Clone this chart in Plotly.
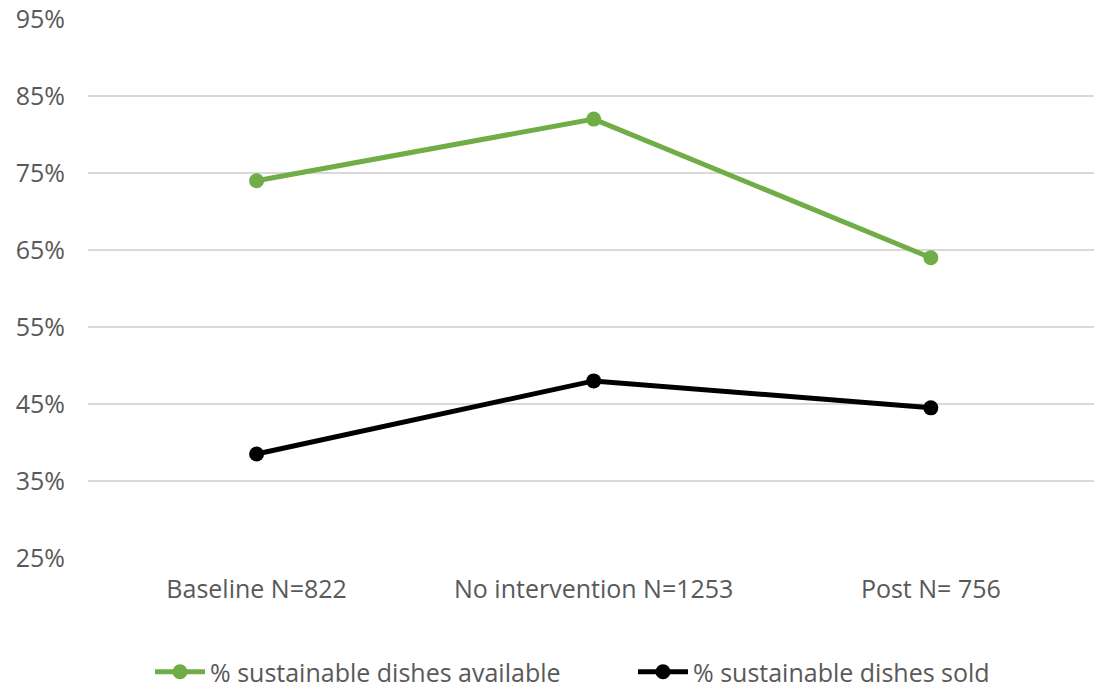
import plotly.graph_objects as go

categories = ["Baseline N=822", "No intervention N=1253", "Post N= 756"]
available = [0.74, 0.82, 0.64]
sold = [0.385, 0.48, 0.445]
y_ticks = [0.25, 0.35, 0.45, 0.55, 0.65, 0.75, 0.85, 0.95]

FONT = "Open Sans"
GREY = "#595959"
SIZE = 25

fig = go.Figure()
fig.add_trace(go.Scatter(
    x=categories, y=available, mode="lines+markers",
    name="% sustainable dishes available",
    line=dict(color="#70AD47", width=5),
    marker=dict(size=15, color="#70AD47"),
    legend="legend",
))
fig.add_trace(go.Scatter(
    x=categories, y=sold, mode="lines+markers",
    name="% sustainable dishes sold",
    line=dict(color="#000000", width=5),
    marker=dict(size=15, color="#000000"),
    legend="legend2",
))

legend_common = dict(orientation="h", yanchor="middle", y=(558 - 672) / 539,
                     xanchor="left", font=dict(family=FONT, size=SIZE, color=GREY),
                     itemwidth=50, bgcolor="rgba(0,0,0,0)")

fig.update_layout(
    width=1094, height=687,
    margin=dict(l=88, r=0, t=19, b=129, autoexpand=False),
    paper_bgcolor="white", plot_bgcolor="white",
    font=dict(family=FONT, size=SIZE, color=GREY),
    showlegend=True,
    legend=dict(x=(150 - 88) / 1006, **legend_common),
    legend2=dict(x=(633 - 88) / 1006, **legend_common),
    xaxis=dict(type="category", range=[-0.5, 2.484], showgrid=False, zeroline=False,
               showline=False, ticks="", ticklabelstandoff=14,
               tickfont=dict(family=FONT, size=SIZE, color=GREY)),
    yaxis=dict(range=[0.25, 0.95], tickvals=y_ticks, tickformat=".0%",
               showgrid=True, gridcolor="#D9D9D9", gridwidth=2, zeroline=False,
               showline=False, ticks="", ticklabelstandoff=22,
               tickfont=dict(family=FONT, size=SIZE, color=GREY)),
)

fig.write_html("out.html")
